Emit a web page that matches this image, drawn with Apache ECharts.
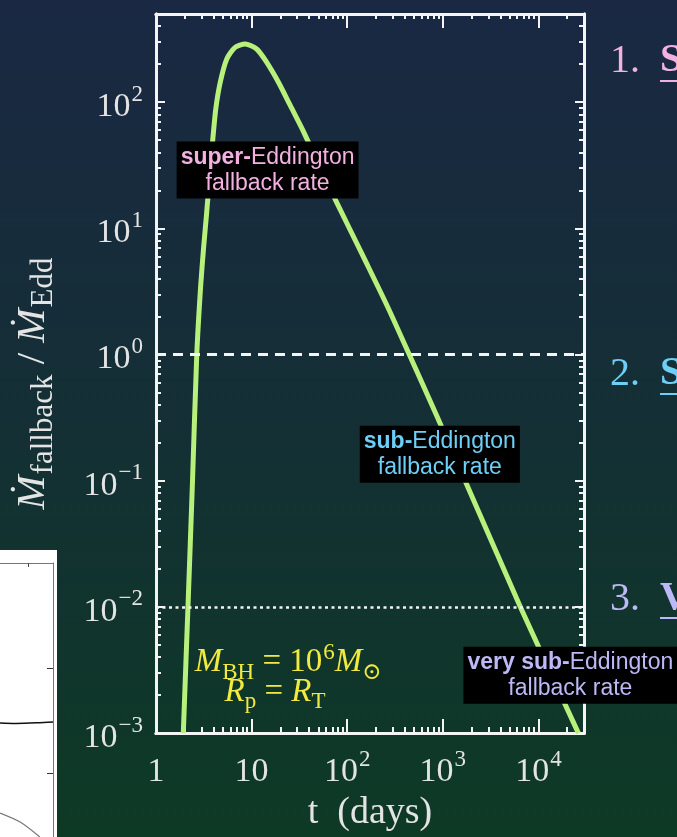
<!DOCTYPE html>
<html>
<head>
<meta charset="utf-8">
<script src="https://cdn.jsdelivr.net/npm/echarts@6/dist/echarts.min.js"></script>
<style>
  html, body { margin: 0; padding: 0; }
  #chart { width: 677px; height: 837px; }
</style>
</head>
<body>
<div id="chart"></div>
<script>
// Fallback rate in units of the Eddington rate, versus time since disruption (days)
const tDays = [1.93, 2.16, 2.41, 2.67, 2.92, 3.14, 3.38, 3.65, 3.94, 4.23, 4.70, 5.50, 6.72, 8.55,
  11.3, 14.4, 19.1, 25.3, 34.9, 74.9, 151, 269, 446, 876, 6480, 26200];
const rateRatio = [0.001, 0.01, 0.1, 1, 3.34, 6.89, 13.0, 26.7, 52.2, 89.7, 144, 220, 272, 289,
  264, 207, 144, 94.7, 58.5, 17.0, 5.75, 2.33, 1, 0.32, 0.01, 0.001];

// Reference levels: Eddington rate and 1% of it
const eddingtonLevels = [1, 0.01];

// Tick positions
const xMajorTicks = [1, 10, 100, 1000, 10000];
const xMinorTicks = [2, 3, 4, 5, 6, 7, 8, 9, 20, 30, 40, 50, 60, 70, 80, 90, 200, 300, 400, 500, 600, 700, 800, 900,
  2000, 3000, 4000, 5000, 6000, 7000, 8000, 9000, 20000];
const yMajorTicks = [0.001, 0.01, 0.1, 1, 10, 100];
const yMinorTicks = [0.002, 0.003, 0.004, 0.005, 0.006, 0.007, 0.008, 0.009,
  0.02, 0.03, 0.04, 0.05, 0.06, 0.07, 0.08, 0.09,
  0.2, 0.3, 0.4, 0.5, 0.6, 0.7, 0.8, 0.9,
  2, 3, 4, 5, 6, 7, 8, 9, 20, 30, 40, 50, 60, 70, 80, 90, 200, 300, 400];

// Neighbouring panel (partly visible at lower left)
const panelX = [0, 0.3, 0.7, 1.0];
const panelUpper = [0.0300, 0.0297, 0.0301, 0.0307];
const panelX2 = [0, 0.38, 0.75];
const panelLower = [0.00416, 0.00341, 0.00246];
const panelMajorTicks = [0.01, 0.1];
const panelMinorTicks = [0.003, 0.004, 0.005, 0.006, 0.007, 0.008, 0.009,
  0.02, 0.03, 0.04, 0.05, 0.06, 0.07, 0.08, 0.09,
  0.2, 0.3, 0.4, 0.5, 0.6, 0.7, 0.8, 0.9];
const panelTopTicks = [0.53];

const SERIF = "'Liberation Serif', 'DejaVu Serif', serif";
const SANS = "'Liberation Sans', Arial, sans-serif";
const FRAME = '#f4f4f4';
const TEXT_GREY = '#e4e4e4';
const CURVE = '#b7f07b';
const PINK = '#f3b1e1';
const BLUE = '#6dcff6';
const LAVENDER = '#bdb8f6';
const YELLOW = '#f2ea3e';

const tickRich = {
  b: { fontFamily: SERIF, fontSize: 34, color: TEXT_GREY, verticalAlign: 'top', padding: [10, 0, 0, 0] },
  s: { fontFamily: SERIF, fontSize: 23, color: TEXT_GREY, verticalAlign: 'top', padding: [3, 0, 0, 1] }
};

function decadeLabel(v, plainSmall) {
  const e = Math.round(Math.log10(v));
  if (plainSmall && e === 0) return '{b|1}';
  if (plainSmall && e === 1) return '{b|10}';
  return '{b|10}{s|' + String(e).replace('-', '\u2212') + '}';
}

function frameAxis(kind, position, ticks, length, extra) {
  const isX = kind === 'x';
  return Object.assign({
    type: 'log', logBase: 10, gridIndex: 0, position: position,
    min: isX ? 1 : 0.001, max: isX ? 30000 : 500,
    axisLine: { show: true, onZero: false, lineStyle: { color: FRAME, width: 3 } },
    axisTick: { show: true, inside: true, length: length, customValues: ticks, lineStyle: { color: FRAME, width: 2 } },
    axisLabel: { show: false },
    splitLine: { show: false },
    minorTick: { show: false },
    minorSplitLine: { show: false }
  }, extra || {});
}

const chart = echarts.init(document.getElementById('chart'));

chart.setOption({
  animation: false,
  backgroundColor: new echarts.graphic.LinearGradient(0, 0, 0, 1, [
    { offset: 0, color: '#1a2843' },
    { offset: 0.5, color: '#142f35' },
    { offset: 1, color: '#0d3a25' }
  ]),
  grid: [
    { left: 156, right: 93, top: 14, bottom: 98 },
    { left: 0, top: 563, width: 53, height: 274 }
  ],
  xAxis: [
    frameAxis('x', 'bottom', xMajorTicks, 14, {
      axisLabel: {
        show: true, customValues: xMajorTicks, margin: 12,
        formatter: v => decadeLabel(v, true), rich: tickRich
      },
      name: 't  (days)', nameLocation: 'middle', nameGap: 58,
      nameTextStyle: { fontFamily: SERIF, fontSize: 38, color: TEXT_GREY }
    }),
    frameAxis('x', 'bottom', xMinorTicks, 6),
    frameAxis('x', 'top', xMajorTicks, 14),
    frameAxis('x', 'top', xMinorTicks, 5),
    {
      type: 'value', gridIndex: 1, position: 'top', min: 0, max: 1,
      axisLine: { show: true, onZero: false, lineStyle: { color: '#777', width: 1 } },
      axisTick: { show: true, inside: true, length: 4, customValues: panelTopTicks, lineStyle: { color: '#444' } },
      axisLabel: { show: false }, splitLine: { show: false }
    }
  ],
  yAxis: [
    frameAxis('y', 'left', yMajorTicks, 9, {
      axisLabel: {
        show: true, customValues: yMajorTicks, margin: 13, align: 'right',
        formatter: v => decadeLabel(v, false), rich: tickRich
      },
      name: '{m|\u1E40}{s|fallback}{n| / }{m|\u1E40}{s|Edd}',
      nameLocation: 'middle', nameGap: 97, nameRotate: 90,
      nameTextStyle: {
        padding: [0, 20, 0, 0],
        rich: {
          m: { fontFamily: SERIF, fontStyle: 'italic', fontSize: 41, color: TEXT_GREY, verticalAlign: 'top' },
          n: { fontFamily: SERIF, fontSize: 41, color: TEXT_GREY, verticalAlign: 'top' },
          s: { fontFamily: SERIF, fontSize: 31, color: TEXT_GREY, verticalAlign: 'top', padding: [15, 0, 0, 1] }
        }
      }
    }),
    frameAxis('y', 'left', yMinorTicks, 5),
    frameAxis('y', 'right', yMajorTicks, 9),
    frameAxis('y', 'right', yMinorTicks, 5),
    {
      type: 'log', logBase: 10, gridIndex: 1, position: 'right', min: 0.00246, max: 1,
      axisLine: { show: true, onZero: false, lineStyle: { color: '#777', width: 1 } },
      axisTick: { show: true, inside: true, length: 6, customValues: panelMajorTicks, lineStyle: { color: '#333' } },
      axisLabel: { show: false }, splitLine: { show: false }
    },
    {
      type: 'log', logBase: 10, gridIndex: 1, position: 'right', min: 0.00246, max: 1,
      axisLine: { show: false },
      axisTick: { show: true, inside: true, length: 3, customValues: panelMinorTicks, lineStyle: { color: '#444' } },
      axisLabel: { show: false }, splitLine: { show: false }
    }
  ],
  graphic: [
    { type: 'rect', z: -10, shape: { x: 0, y: 550, width: 57, height: 287 }, style: { fill: '#ffffff' } },
    { type: 'text', x: 610, y: 61, style: { text: '1.', font: '40px ' + SERIF, fill: PINK, verticalAlign: 'middle' } },
    { type: 'text', x: 660, y: 61, style: { text: 'S', font: 'bold 40px ' + SERIF, fill: PINK, verticalAlign: 'middle' } },
    { type: 'line', shape: { x1: 660, y1: 81, x2: 677, y2: 81 }, style: { stroke: PINK, lineWidth: 2 } },
    { type: 'text', x: 610, y: 374, style: { text: '2.', font: '40px ' + SERIF, fill: BLUE, verticalAlign: 'middle' } },
    { type: 'text', x: 660, y: 374, style: { text: 'S', font: 'bold 40px ' + SERIF, fill: BLUE, verticalAlign: 'middle' } },
    { type: 'line', shape: { x1: 660, y1: 394, x2: 677, y2: 394 }, style: { stroke: BLUE, lineWidth: 2 } },
    { type: 'text', x: 610, y: 599, style: { text: '3.', font: '40px ' + SERIF, fill: LAVENDER, verticalAlign: 'middle' } },
    { type: 'text', x: 660, y: 599, style: { text: 'V', font: 'bold 40px ' + SERIF, fill: LAVENDER, verticalAlign: 'middle' } },
    { type: 'line', shape: { x1: 660, y1: 618, x2: 677, y2: 618 }, style: { stroke: LAVENDER, lineWidth: 2 } }
  ],
  series: [
    {
      type: 'line', name: 'fallback', xAxisIndex: 0, yAxisIndex: 0,
      data: tDays.map((t, i) => [t, rateRatio[i]]),
      showSymbol: false, smooth: 0.25, clip: true, z: 3,
      lineStyle: { color: CURVE, width: 5 },
      markLine: {
        silent: true, symbol: ['none', 'none'], label: { show: false },
        data: [
          { yAxis: eddingtonLevels[0], lineStyle: { color: FRAME, width: 3, type: [10, 7] } },
          { yAxis: eddingtonLevels[1], lineStyle: { color: FRAME, width: 2.5, type: [3, 3.5] } }
        ]
      },
      markPoint: {
        silent: true, symbol: 'rect', symbolSize: 1,
        itemStyle: { color: 'rgba(0,0,0,0)' },
        label: {
          show: true, position: 'inside', align: 'center',
          backgroundColor: '#000', padding: [3, 4, 2, 4], lineHeight: 26,
          rich: {
            sb: { fontFamily: SANS, fontSize: 23, fontWeight: 'bold', color: PINK },
            sr: { fontFamily: SANS, fontSize: 23, color: PINK },
            bb: { fontFamily: SANS, fontSize: 23, fontWeight: 'bold', color: BLUE },
            br: { fontFamily: SANS, fontSize: 23, color: BLUE },
            vb: { fontFamily: SANS, fontSize: 23, fontWeight: 'bold', color: LAVENDER },
            vr: { fontFamily: SANS, fontSize: 23, color: LAVENDER },
            yi: { fontFamily: SERIF, fontStyle: 'italic', fontSize: 33, color: YELLOW, verticalAlign: 'top', padding: [6, 0, 0, 0] },
            yn: { fontFamily: SERIF, fontSize: 33, color: YELLOW, verticalAlign: 'top', padding: [6, 0, 0, 0] },
            yd: { fontFamily: SERIF, fontSize: 23, color: YELLOW, verticalAlign: 'top', padding: [21, 0, 0, 0] },
            yu: { fontFamily: SERIF, fontSize: 23, color: YELLOW, verticalAlign: 'top', padding: [1, 0, 0, 1] }
          }
        },
        data: [
          { coord: [14.7, 29.0], label: { formatter: '{sb|super-}{sr|Eddington}\n{sr|fallback rate}' } },
          { coord: [931, 0.162], label: { formatter: '{bb|sub-}{br|Eddington}\n{br|fallback rate}' } },
          { coord: [21600, 0.00287], label: { formatter: '{vb|very sub-}{vr|Eddington}\n{vr|fallback rate}' } },
          { coord: [24.1, 0.0043], label: { backgroundColor: 'transparent', padding: 0, lineHeight: null,
              formatter: '{yi|M}{yd|BH}{yn| = 10}{yu|6}{yi|M}{yd|\u2299}' } },
          { coord: [17.6, 0.0025], label: { backgroundColor: 'transparent', padding: 0, lineHeight: null,
              formatter: '{yi|R}{yd|p}{yn| = }{yi|R}{yd|T}' } }
        ]
      }
    },
    {
      type: 'line', name: 'panel upper', xAxisIndex: 4, yAxisIndex: 4,
      data: panelX.map((x, i) => [x, panelUpper[i]]),
      showSymbol: false, smooth: 0.3, clip: true,
      lineStyle: { color: '#111', width: 1.5 }
    },
    {
      type: 'line', name: 'panel lower', xAxisIndex: 4, yAxisIndex: 4,
      data: panelX2.map((x, i) => [x, panelLower[i]]),
      showSymbol: false, smooth: 0.3, clip: true,
      lineStyle: { color: '#777', width: 1.2 }
    }
  ]
});
</script>
</body>
</html>
